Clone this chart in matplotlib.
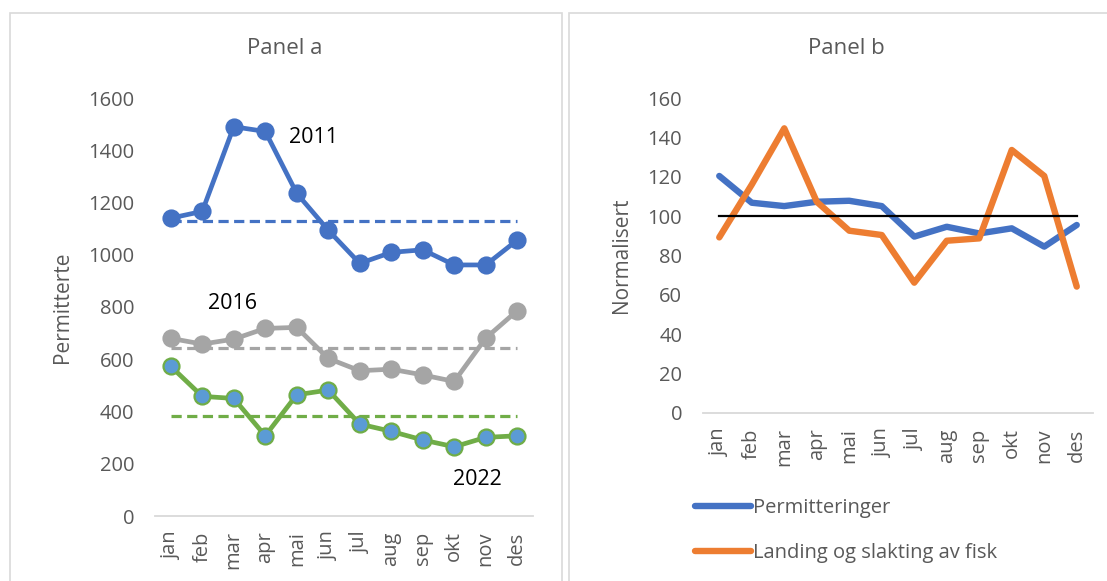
import numpy as np
import matplotlib
matplotlib.use("Agg")
import matplotlib.pyplot as plt
from matplotlib.patches import Rectangle

plt.rcParams['font.family'] = ['Open Sans', 'DejaVu Sans']

months = ['jan', 'feb', 'mar', 'apr', 'mai', 'jun', 'jul', 'aug', 'sep', 'okt', 'nov', 'des']

# Panel a: permitterte per month
perm_2011 = [1140, 1166, 1490, 1472, 1235, 1094, 967, 1009, 1019, 961, 961, 1056]
perm_2016 = [680, 658, 677, 718, 722, 603, 556, 562, 540, 515, 681, 786]
perm_2022 = [573, 458, 450, 307, 464, 482, 352, 324, 291, 265, 301, 307]

# Panel b: normalised series
permitteringer = [120.4, 106.8, 105.1, 107.3, 107.8, 105.1, 89.6, 94.6, 91.2, 93.8, 84.5, 95.5]
landing_fisk = [89.2, 116, 144.6, 107.3, 92.6, 90.4, 66.2, 87.5, 88.7, 133.6, 120.4, 64.2]
ref_level = 100

BLUE = '#4472C4'
ORANGE = '#ED7D31'
GRAY = '#A5A5A5'
GREEN = '#70AD47'
LBLUE = '#5B9BD5'
TXT = '#595959'
W, H = 1107, 581

fig = plt.figure(figsize=(W / 100, H / 100), dpi=100)

# chart frames (open at the bottom / right like the cropped excel charts)
for x0, x1 in [(10, 562), (569, 1120)]:
    fig.patches.append(Rectangle((x0 / W, -0.1), (x1 - x0) / W, 1.1 - 13 / H,
                                 transform=fig.transFigure, fill=False,
                                 edgecolor='#D9D9D9', linewidth=1.2))

x = np.arange(12)


def style_axis(ax):
    for s in ['top', 'right', 'left']:
        ax.spines[s].set_visible(False)
    ax.spines['bottom'].set_color('#D9D9D9')
    ax.spines['bottom'].set_linewidth(1.3)
    ax.set_xlim(-0.5, 11.5)
    ax.set_xticks(x)
    ax.set_xticklabels(months, rotation=90, fontsize=14.5, color=TXT)
    ax.tick_params(axis='both', length=0, colors=TXT, labelsize=14.5)
    ax.tick_params(axis='x', pad=11)
    ax.tick_params(axis='y', pad=15)


# ---- Panel a
ax1 = fig.add_axes([155 / W, 1 - 516 / H, 378 / W, 418 / H])
style_axis(ax1)
ax1.set_ylim(0, 1600)
ax1.set_yticks(range(0, 1601, 200))

for vals, col, face in [(perm_2011, BLUE, BLUE), (perm_2016, GRAY, GRAY), (perm_2022, GREEN, LBLUE)]:
    ax1.plot(x, [np.mean(vals)] * 12, color=col, lw=2.3, dashes=(3.2, 1.7), clip_on=False)
    ax1.plot(x, vals, color=col, lw=3.4, marker='o', markersize=11.5,
             markerfacecolor=face, markeredgecolor=col, markeredgewidth=1.6, clip_on=False)

ax1.text(3.75, 1447, '2011', fontsize=15.5, color='black', ha='left', va='center')
ax1.text(1.17, 815, '2016', fontsize=15.5, color='black', ha='left', va='center')
ax1.text(8.95, 138, '2022', fontsize=15.5, color='black', ha='left', va='center')
ax1.set_ylabel('Permitterte', fontsize=15, color=TXT, labelpad=11)
fig.text(285 / W, 1 - 48 / H, 'Panel a', fontsize=16, color=TXT, ha='center', va='center')

# ---- Panel b
ax2 = fig.add_axes([703 / W, 1 - 413 / H, 390 / W, 315 / H])
style_axis(ax2)
ax2.set_ylim(0, 160)
ax2.set_yticks(range(0, 161, 20))
ax2.plot(x, permitteringer, color=BLUE, lw=4.6, solid_capstyle='round',
         label='Permitteringer', clip_on=False)
ax2.plot(x, landing_fisk, color=ORANGE, lw=4.6, solid_capstyle='round',
         label='Landing og slakting av fisk', clip_on=False)
ax2.plot(x, [ref_level] * 12, color='black', lw=1.6)
ax2.set_ylabel('Normalisert', fontsize=15, color=TXT, labelpad=11)
fig.text(846 / W, 1 - 48 / H, 'Panel b', fontsize=16, color=TXT, ha='center', va='center')

leg = ax2.legend(loc='upper left', bbox_to_anchor=(687 / W, 1 - 490 / H),
                 bbox_transform=fig.transFigure, frameon=False, fontsize=14.5,
                 handlelength=2.8, handletextpad=0.1, labelspacing=1.25,
                 labelcolor=TXT, borderaxespad=0)

fig.savefig('out.png', dpi=100)
